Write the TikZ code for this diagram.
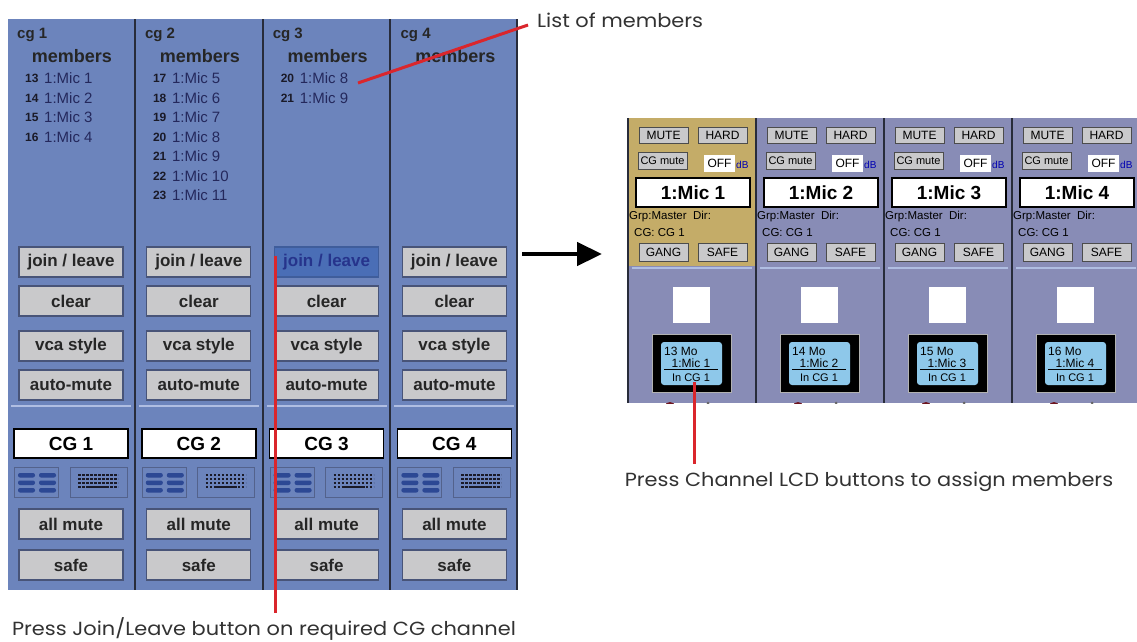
\documentclass[tikz,border=0pt]{standalone}
\usepackage{fontspec}
\setmainfont{Liberation Sans}
\newfontfamily\notefont{Poppins}
\usetikzlibrary{arrows.meta}
\definecolor{cgblue}{RGB}{108,132,188}
\definecolor{cgdark}{RGB}{40,44,58}
\definecolor{btngrey}{RGB}{201,201,203}
\definecolor{btnedge}{RGB}{72,84,120}
\definecolor{hiblue}{RGB}{74,110,182}
\definecolor{hitext}{RGB}{38,52,140}
\definecolor{sepline}{RGB}{176,190,226}
\definecolor{iconbar}{RGB}{44,72,148}
\definecolor{keydark}{RGB}{26,26,40}
\definecolor{micnavy}{RGB}{36,40,92}
\definecolor{chlav}{RGB}{136,140,182}
\definecolor{chgold}{RGB}{196,172,104}
\definecolor{lcdblue}{RGB}{142,200,234}
\definecolor{knobred}{RGB}{110,20,30}
\definecolor{callred}{RGB}{218,38,44}
\definecolor{notegrey}{RGB}{50,50,50}
\newcommand{\fsz}[1]{\fontsize{#1}{#1}\selectfont}
\newcommand{\wide}[1]{\scalebox{1.1}[1]{#1}}
\begin{document}
\begin{tikzpicture}[x=1pt,y=-1pt,
  cgbtn/.style={draw=btnedge,fill=btngrey,line width=1.2pt,minimum width=104pt,minimum height=30pt,inner sep=0pt,text=black!85,font=\fsz{17}\bfseries},
  hibtn/.style={fill=hiblue,draw=hiblue!85!black,text=hitext},
  namebox/.style={draw=black,fill=white,line width=1.5pt,inner sep=0pt},
  iconbox/.style={draw=btnedge!70!cgblue,line width=1pt,inner sep=0pt},
  chbtn/.style={draw=black!70,fill=btngrey,line width=1pt,minimum width=49pt,minimum height=16pt,inner sep=0pt,font=\fsz{12}},
  callout/.style={callred,line width=3pt},
  note/.style={inner sep=0pt,text=notegrey,font=\notefont\fsz{19}}]
  \useasboundingbox (0,0) rectangle (1137,641);

  \fill[cgblue] (8,19) rectangle (518,590);
  \foreach \x in {135,263,390,517}
    \draw[cgdark,line width=2pt] (\x,19) -- (\x,590);
  \foreach \c [evaluate=\c as \o using 127.8*\c, evaluate=\c as \n using int(\c+1)] in {0,...,3}{
    \node[anchor=west,inner sep=0pt,font=\fsz{15}\bfseries,text=black!85] (cg-\c) at (17+\o,35) {cg \n};
    \node[inner sep=0pt,font=\fsz{18}\bfseries,text=black!85] (mh-\c) at (72+\o,56) {members};
    \ifnum\c=2
      \node[cgbtn,hibtn] (join-\c) at (71+\o,262) {join / leave};
    \else
      \node[cgbtn] (join-\c) at (71+\o,262) {join / leave};
    \fi
    \node[cgbtn] (clear-\c) at (71+\o,301) {clear};
    \node[cgbtn] (vca-\c) at (71+\o,346) {vca style};
    \node[cgbtn] (amute-\c) at (71+\o,385) {auto-mute};
    \draw[sepline,line width=1.5pt] (11+\o,406) -- (131+\o,406);
    \node[namebox,minimum width=114pt,minimum height=29pt,font=\fsz{19}\bfseries] (name-\c) at (71+\o,443.5) {CG \n};
    \node[iconbox,minimum width=44pt,minimum height=30pt] (grid-\c) at (36.5+\o,482.5) {};
    \node[iconbox,minimum width=57pt,minimum height=30pt] (keys-\c) at (98.5+\o,482.5) {};
    \foreach \r in {0,1,2}
      \foreach \k in {0,1}
        \fill[iconbar,rounded corners=2pt] (18+21*\k+\o,473+7.5*\r) rectangle ++(17,4.5);
    \foreach \r in {0,1,2}
      \draw[keydark,line width=2.2pt,dash pattern=on 2.6pt off 1.4pt] (78+\o,475+4*\r) -- (118+\o,475+4*\r);
    \draw[keydark,line width=2.2pt,dash pattern=on 2.6pt off 1.4pt] (78+\o,487) -- (87+\o,487);
    \draw[keydark,line width=2.2pt] (87+\o,487) -- (109+\o,487);
    \draw[keydark,line width=2.2pt,dash pattern=on 2.6pt off 1.4pt] (110+\o,487) -- (118+\o,487);
    \node[cgbtn] (allm-\c) at (71+\o,524) {all mute};
    \node[cgbtn] (safe-\c) at (71+\o,565) {safe};
  }
  \foreach \c/\mems in {0/{13/1,14/2,15/3,16/4},1/{17/5,18/6,19/7,20/8,21/9,22/10,23/11},2/{20/8,21/9}}{
    \foreach \num/\mic [count=\r] in \mems{
      \node[anchor=west,inner sep=0pt,font=\fsz{12}\bfseries,text=keydark] (mno-\c-\r) at (25+127.8*\c,59+19.5*\r) {\num};
      \node[anchor=west,inner sep=0pt,font=\fsz{15},text=micnavy] (mic-\c-\r) at (44+127.8*\c,59+19.5*\r) {1:Mic \mic};
    }
  }

  \begin{scope}
    \clip (627,118) rectangle (1137,403);
    \fill[chlav] (627,118) rectangle (1137,403);
    \fill[chgold] (628,118) rectangle (756,266);
    \foreach \x in {628,756,884,1012}
      \draw[cgdark,line width=1.5pt] (\x,118) -- (\x,403);
    \foreach \c [evaluate=\c as \L using 628+128*\c, evaluate=\c as \n using int(\c+1), evaluate=\c as \ch using int(\c+13)] in {0,...,3}{
      \node[chbtn] (mute-\c) at (\L+35.5,135) {MUTE};
      \node[chbtn] (hard-\c) at (\L+94.5,135) {HARD};
      \node[chbtn,minimum height=17pt,font=\fsz{11}] (cgm-\c) at (\L+34.5,160.5) {CG mute};
      \node[fill=white,minimum width=31pt,minimum height=17pt,inner sep=0pt,font=\fsz{12}] (off-\c) at (\L+91.5,163.5) {OFF};
      \node[anchor=west,inner sep=0pt,text=blue!70!black,font=\fsz{10}] (db-\c) at (\L+108,165) {dB};
      \node[namebox,minimum width=114pt,minimum height=29pt,font=\fsz{19}\bfseries] (chname-\c) at (\L+65,192.5) {1:Mic \n};
      \node[anchor=west,inner sep=0pt,font=\fsz{11.5}] (grp-\c) at (\L+1,217) {Grp:Master\ \ Dir:};
      \node[anchor=west,inner sep=0pt,font=\fsz{11.5}] (cgof-\c) at (\L+6,233) {CG: CG 1};
      \node[chbtn,minimum height=18pt] (gang-\c) at (\L+35.5,252) {GANG};
      \node[chbtn,minimum height=18pt] (csafe-\c) at (\L+94.5,252) {SAFE};
      \draw[sepline,line width=1.2pt] (\L+4,268) -- (\L+124,268);
      \node[fill=white,minimum width=37pt,minimum height=36pt,inner sep=0pt] (sel-\c) at (\L+63.5,305) {};
      \node[fill=black,draw=white!70!black,line width=0.8pt,minimum width=79pt,minimum height=58pt,inner sep=0pt] (lcd-\c) at (\L+63.5,363) {};
      \node[fill=lcdblue,rounded corners=3pt,minimum width=61pt,minimum height=43pt,inner sep=0pt] (lcdin-\c) at (\L+63.5,363.5) {};
      \node[anchor=west,inner sep=0pt,font=\fsz{12}] (lcdch-\c) at (\L+36,351) {\ch\ Mo};
      \node[inner sep=0pt,font=\fsz{12}] (lcdmic-\c) at (\L+63,363) {1:Mic \n};
      \draw[black,line width=1pt] (\L+36,369.5) -- (\L+90,369.5);
      \node[inner sep=0pt,font=\fsz{11}] (lcdcg-\c) at (\L+63,378) {In CG 1};
      \fill[knobred] (\L+42,406) ellipse (5 and 4);
      \fill[black!60] (\L+80,403) circle (1.5);
    }
  \end{scope}

  \coordinate (arrfrom) at (522,254);
  \coordinate (arrto) at (602,254);
  \draw[-{Triangle[length=25pt,width=23pt]},line width=4.5pt] (arrfrom) -- (arrto);

  \node[note,anchor=west] (listlbl) at (537,20) {\wide{List of members}};
  \coordinate (listtip) at (358,83);
  \draw[callout] (listtip) -- ([xshift=-9pt,yshift=-5pt]listlbl.west);

  \node[note] (joinlbl) at (264,629) {\wide{Press Join/Leave button on required CG channel}};
  \coordinate (jointip) at (275,256);
  \draw[callout,shorten >=4pt] (jointip) -- (jointip |- joinlbl.north);

  \node[note] (lcdlbl) at (869,482) {\wide{Press Channel LCD buttons to assign members}};
  \coordinate (lcdtip) at (694,382);
  \draw[callout,shorten >=8pt] (lcdtip) -- (lcdtip |- lcdlbl.north);
\end{tikzpicture}
\end{document}
